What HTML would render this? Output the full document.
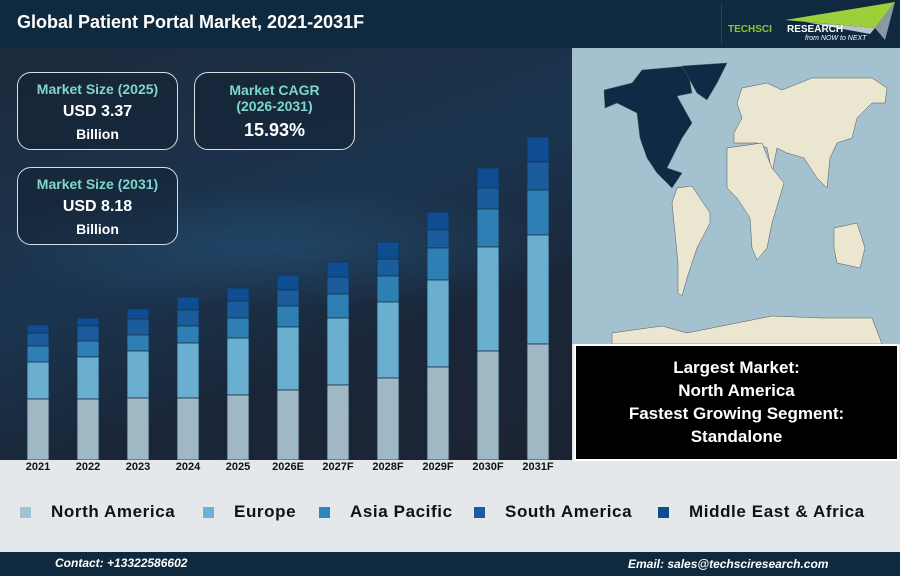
<!DOCTYPE html>
<html><head><meta charset="utf-8"><style>
*{margin:0;padding:0;box-sizing:border-box}
body{width:900px;height:576px;overflow:hidden;font-family:"Liberation Sans",sans-serif;background:#e4e8ea;position:relative}
.a{position:absolute}
.box{position:absolute;border:1.5px solid #d8dde2;border-radius:14px;text-align:center;color:#fff;font-weight:bold;background:rgba(15,25,40,0.35)}
.box .t{color:#7fd6cc;font-size:14px}
.leg{position:absolute;top:502px;font-size:17px;font-weight:bold;color:#111;letter-spacing:0.6px}
.sw{position:absolute;top:507px;width:11px;height:11px}
.yl{position:absolute;top:461px;font-size:11px;font-weight:bold;color:#111;width:50px;text-align:center}
</style></head><body>
<div class="a" style="left:0;top:0;width:900px;height:48px;background:#0f2a3f"></div>
<div class="a" style="left:17px;top:12px;font-size:18px;font-weight:bold;color:#fff">Global Patient Portal Market, 2021-2031F</div>
<div class="a" style="left:721px;top:4px;width:1px;height:40px;background:#2c4559"></div>
<svg class="a" style="left:725px;top:0" width="175" height="48"><polygon points="60,20 170,2 150,28" fill="#9ccf3a"/><polygon points="80,22 150,28 145,34" fill="#b8c4cc"/><polygon points="150,28 170,2 160,40" fill="#8a98a4"/>
<text x="3" y="32" font-family="Liberation Sans" font-weight="bold" font-size="10" fill="#8cc63f">TECHSCI</text><text x="62" y="32" font-family="Liberation Sans" font-weight="bold" font-size="10" fill="#fff">RESEARCH</text><text x="80" y="40" font-family="Liberation Sans" font-style="italic" font-size="7" fill="#fff">from NOW to NEXT</text></svg>
<div class="a" style="left:0;top:48px;width:572px;height:412px;background:radial-gradient(ellipse 300px 60px at 280px 200px,rgba(40,90,130,0.45),transparent),linear-gradient(160deg,#1d2a3c 0%,#1b3550 45%,#1a2638 70%,#1c2433 100%)"></div>
<div class="box" style="left:17px;top:72px;width:161px;height:78px"><div class="t" style="margin-top:8px">Market Size (2025)</div><div style="font-size:16px;margin-top:6px">USD 3.37</div><div style="font-size:14px;margin-top:5px">Billion</div></div>
<div class="box" style="left:194px;top:72px;width:161px;height:78px"><div class="t" style="margin-top:9px;line-height:16px">Market CAGR<br>(2026-2031)</div><div style="font-size:18px;margin-top:6px">15.93%</div></div>
<div class="box" style="left:17px;top:167px;width:161px;height:78px"><div class="t" style="margin-top:8px">Market Size (2031)</div><div style="font-size:16px;margin-top:6px">USD 8.18</div><div style="font-size:14px;margin-top:5px">Billion</div></div>
<svg class="a" style="left:0;top:0" width="572" height="460" id="bars"></svg>
<div class="a" style="left:572px;top:48px;width:328px;height:296px;background:#a3c1ce;overflow:hidden">
<svg width="328" height="296"><g stroke="#555" stroke-width="0.5">
<path d="M32,42 L60,35 L70,22 L115,18 L120,45 L105,48 L120,75 L110,90 L100,110 L95,120 L110,125 L100,140 L85,125 L75,110 L68,90 L65,65 L45,55 L33,60 Z" fill="#0f2a45"/>
<path d="M110,18 L155,15 L145,35 L135,52 L125,45 Z" fill="#0f2a45"/>
<path d="M105,140 L120,138 L138,165 L138,175 L125,200 L115,230 L110,248 L106,245 L106,215 L102,175 L100,155 Z" fill="#eae6cf"/>
<path d="M165,55 L170,40 L195,35 L210,42 L240,30 L300,30 L315,40 L313,55 L300,55 L285,70 L280,90 L265,95 L258,110 L255,140 L245,130 L232,110 L215,105 L205,100 L200,125 L195,100 L185,95 L162,95 L162,85 L170,70 Z" fill="#eae6cf"/>
<path d="M155,100 L190,95 L200,120 L212,135 L200,175 L195,200 L185,212 L180,200 L178,170 L165,150 L155,140 Z" fill="#eae6cf"/>
<path d="M262,180 L285,175 L293,200 L288,220 L265,215 L262,200 Z" fill="#eae6cf"/>
<path d="M40,296 L40,285 L90,278 L115,285 L150,278 L200,268 L250,270 L300,270 L310,296 Z" fill="#eae6cf"/>
</g></svg></div>
<div class="a" style="left:574px;top:344px;width:325px;height:117px;background:#000;border:2px solid #fff;color:#fff;font-weight:bold;font-size:17px;text-align:center;line-height:23px;padding-top:10px">Largest Market:<br>North America<br>Fastest Growing Segment:<br>Standalone</div>
<div class="sw" style="left:20px;background:#9fc3d3"></div><div class="leg" style="left:51px">North America</div>
<div class="sw" style="left:203px;background:#6ab3d6"></div><div class="leg" style="left:234px">Europe</div>
<div class="sw" style="left:319px;background:#2e86bd"></div><div class="leg" style="left:350px">Asia Pacific</div>
<div class="sw" style="left:474px;background:#1a5c9c"></div><div class="leg" style="left:505px">South America</div>
<div class="sw" style="left:658px;background:#0e4d92"></div><div class="leg" style="left:689px">Middle East &amp; Africa</div>
<div class="a" style="left:0;top:552px;width:900px;height:24px;background:#0f2a3f"></div>
<div class="a" style="left:55px;top:556px;font-size:12px;font-style:italic;font-weight:bold;color:#fff">Contact: +13322586602</div>
<div class="a" style="left:628px;top:557px;font-size:12px;font-style:italic;font-weight:bold;color:#fff">Email: sales@techsciresearch.com</div>
<div id="yl"></div>
<script>
var d=[[325,333,346,362,399],[318,326,341,357,399],[309,319,335,351,398],[297,310,326,343,398],[288,301,318,338,395],[275,290,306,327,390],[262,277,294,318,385],[242,259,276,302,378],[212,230,248,280,367],[168,188,209,247,351],[137,162,190,235,344]];
var c=["#0e4d92","#1a5c9c","#2e7fb4","#6aafd0","#9fb8c4"];
var lab=["2021","2022","2023","2024","2025","2026E","2027F","2028F","2029F","2030F","2031F"];
var s="",h="";
for(var i=0;i<11;i++){var x=27+i*50,r=d[i];for(var k=0;k<5;k++){var y0=r[k],y1=k<4?r[k+1]:460;s+='<rect x="'+x+'" y="'+y0+'" width="22" height="'+(y1-y0)+'" fill="'+c[k]+'" stroke="#17324a" stroke-width="0.8"/>';}
h+='<div class="yl" style="left:'+(x-14)+'px">'+lab[i]+'</div>';}
document.getElementById("bars").innerHTML=s;document.getElementById("yl").innerHTML=h;
</script>
</body></html>
